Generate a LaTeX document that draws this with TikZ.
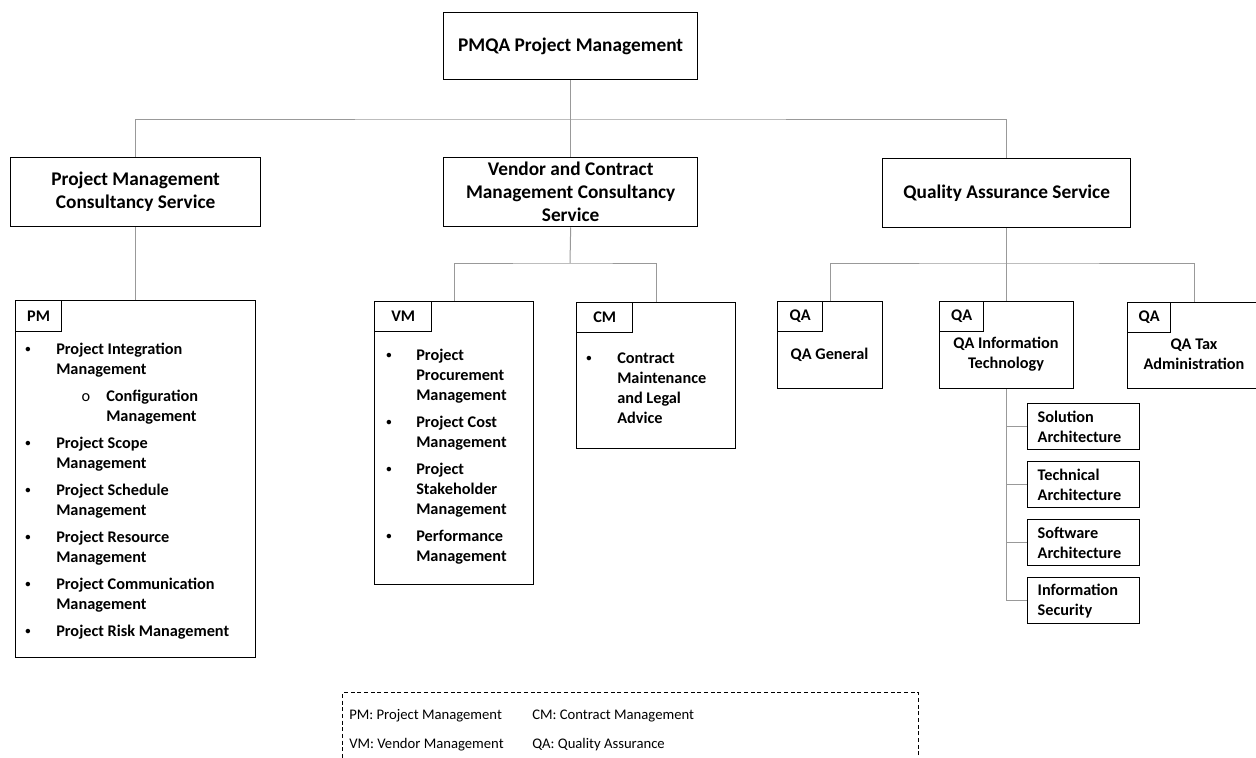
\documentclass[tikz,border=0pt]{standalone}
\usepackage{fontspec}
\setmainfont{Carlito}
\usepackage{array}
\usepackage{graphicx}
\usetikzlibrary{positioning}

\newcommand{\itemdot}{\raisebox{0.12em}{\scalebox{0.65}{\textbullet}}}

\tikzset{
  box/.style={draw, line width=1pt, inner sep=0pt, anchor=north west, align=center,
    font=\bfseries\fontsize{14.5}{17.25}\selectfont},
  tag/.style={draw, line width=1pt, inner sep=0pt, anchor=north west,
    minimum height=22.5pt, font=\bfseries\fontsize{12.2}{15}\selectfont},
  subbox/.style={draw, line width=1pt, anchor=north west, align=left,
    inner xsep=7.5pt, inner ysep=0pt, text width=69pt, minimum height=34.5pt,
    font=\bfseries\fontsize{12.2}{15}\selectfont},
  items/.style={inner sep=0pt, anchor=north west, font=\bfseries\fontsize{12.2}{15}\selectfont},
  qatext/.style={inner sep=0pt, align=center, font=\bfseries\fontsize{12.2}{15}\selectfont},
  key/.style={inner sep=0pt, anchor=west, font=\fontsize{11}{13}\selectfont},
  link/.style={draw=gray!80, line width=0.75pt},
}

\begin{document}
\begin{tikzpicture}[x=0.75pt, y=-0.75pt]
  \useasboundingbox (0,0) rectangle (1256,757);

  % top
  \node[box, minimum width=190.5pt, minimum height=50.25pt] (root) at (443,12) {PMQA Project Management};

  % services
  \node[box, minimum width=187.5pt, minimum height=51.75pt] (pmcs) at (10,157) {Project Management\\Consultancy Service};
  \node[box, minimum width=190.5pt, minimum height=51.75pt] (vcms) at (443,157) {Vendor and Contract\\Management Consultancy\\Service};
  \node[box, minimum width=186pt, minimum height=51.75pt] (qas) at (882,158) {Quality Assurance Service};

  \coordinate (topbar) at (570,119);
  \draw[link] (root.south) -- (vcms.north);
  \draw[link] (pmcs.north) |- (topbar) -| (qas.north);

  % project management
  \node[box, minimum width=180pt, minimum height=267.75pt] (pm) at (15,300) {};
  \node[tag, minimum width=34.5pt, minimum height=23.25pt] (pmtag) at (15,300) {PM};
  \node[items] (pmlist) at (25,340) {%
    \begin{tabular}{@{}p{23.25pt}@{}l@{}}
      \itemdot & Project Integration\\
               & Management\\[5.25pt]
               & \makebox[37.5pt][l]{\hspace{19pt}\mdseries o}Configuration\\
               & \hspace{37.5pt}Management\\[5.25pt]
      \itemdot & Project Scope\\
               & Management\\[5.25pt]
      \itemdot & Project Schedule\\
               & Management\\[5.25pt]
      \itemdot & Project Resource\\
               & Management\\[5.25pt]
      \itemdot & Project Communication\\
               & Management\\[5.25pt]
      \itemdot & Project Risk Management
    \end{tabular}};
  \draw[link] (pmcs.south) -- (pm.north);

  % vendor and contract
  \node[box, minimum width=119.25pt, minimum height=212.25pt] (vm) at (374,301) {};
  \node[tag, minimum width=42.75pt] (vmtag) at (374,301) {VM};
  \node[items] (vmlist) at (386,346) {%
    \begin{tabular}{@{}p{22.5pt}@{}l@{}}
      \itemdot & Project\\
               & Procurement\\
               & Management\\[5.25pt]
      \itemdot & Project Cost\\
               & Management\\[5.25pt]
      \itemdot & Project\\
               & Stakeholder\\
               & Management\\[5.25pt]
      \itemdot & Performance\\
               & Management
    \end{tabular}};
  \node[box, minimum width=119.25pt, minimum height=109.5pt] (cm) at (576,302) {};
  \node[tag, minimum width=42pt] (cmtag) at (576,302) {CM};
  \node[items] (cmlist) at (586,349) {%
    \begin{tabular}{@{}p{23.25pt}@{}l@{}}
      \itemdot & Contract\\
               & Maintenance\\
               & and Legal\\
               & Advice
    \end{tabular}};

  \coordinate (vbar) at (570,263);
  \draw[link] (vcms.south) -- (vbar);
  \draw[link] (vm.north) |- (vbar) -| (cm.north);

  % quality assurance
  \node[box, minimum width=78.75pt, minimum height=65.25pt] (qagen) at (777,301) {};
  \node[tag, minimum width=33.75pt] (qagentag) at (777,301) {QA};
  \node[qatext] (qagentext) at (829.5,355) {QA General};
  \node[box, minimum width=100.5pt, minimum height=65.25pt] (qait) at (939,301) {};
  \node[tag, minimum width=33pt] (qaittag) at (939,301) {QA};
  \node[qatext] (qaittext) at (1006,354) {QA Information\\Technology};
  \node[box, minimum width=100.5pt, minimum height=64.5pt] (qatax) at (1127,302) {};
  \node[tag, minimum width=32.25pt] (qataxtag) at (1127,302) {QA};
  \node[qatext] (qataxtext) at (1194,354) {QA Tax\\Administration};

  \coordinate (qbar) at (1006,263);
  \draw[link] (qas.south) -- (qait.north);
  \draw[link] (qagen.north) |- (qbar) -| (qatax.north);

  % IT areas
  \node[subbox] (sol) at (1027,403) {Solution\\Architecture};
  \node[subbox] (tech) at (1027,461) {Technical\\Architecture};
  \node[subbox] (soft) at (1027,519) {Software\\Architecture};
  \node[subbox] (sec) at (1027,577) {Information\\Security};
  \foreach \s in {sol,tech,soft,sec}
    \draw[link] (qait.south) |- (\s.west);

  % legend
  \node[draw, dash pattern=on 3pt off 2pt, line width=0.75pt, inner sep=0pt, anchor=north west,
    minimum width=432pt, minimum height=60pt] (legend) at (342,692) {};
  \node[key] (keypm) at (349,716) {PM: Project Management};
  \node[key] (keycm) at (532,716) {CM: Contract Management};
  \node[key] (keyvm) at (349,745) {VM: Vendor Management};
  \node[key] (keyqa) at (532,745) {QA: Quality Assurance};
\end{tikzpicture}
\end{document}
